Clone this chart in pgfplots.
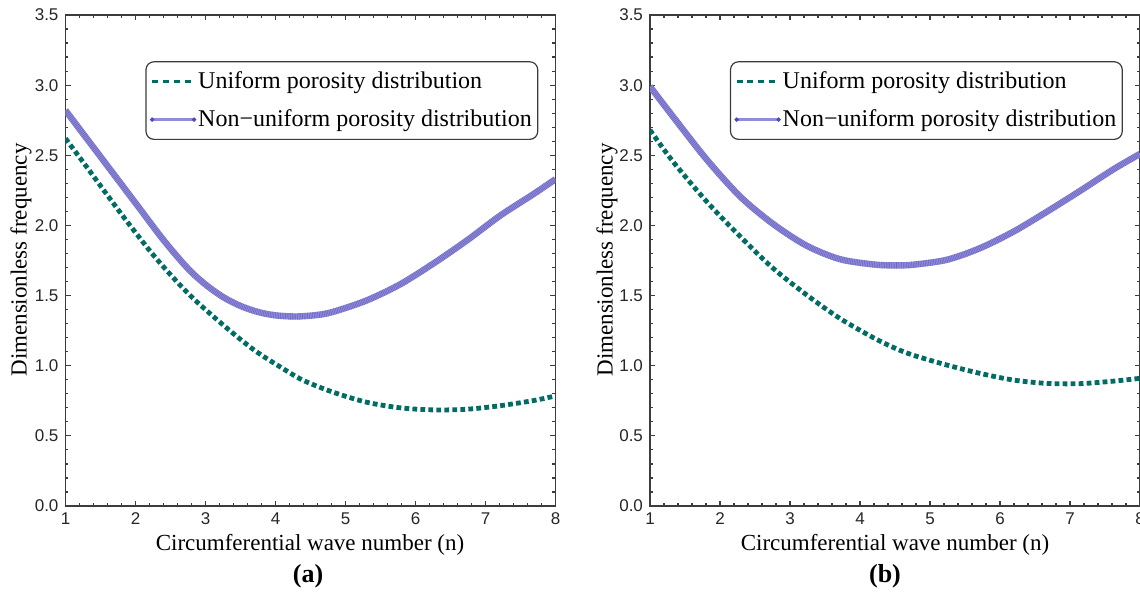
\documentclass[border=0pt]{standalone}
\usepackage{pgfplots}
\usepackage{pgfplotstable}
\pgfplotsset{compat=1.18}
\usepackage{fontspec}
\setmainfont{Liberation Serif}
\newfontfamily\arial{Liberation Sans}

\definecolor{teal1}{RGB}{0,108,100}
\definecolor{lav}{RGB}{145,140,218}
\definecolor{lavdark}{RGB}{80,75,175}
\definecolor{axgray}{RGB}{60,60,60}

\pgfplotstableread{
n f
1    2.82
1.5  2.49
2.0  2.16
2.4  1.896
2.75 1.692
3.0  1.579
3.25 1.49
3.5  1.426
3.75 1.383
4.0  1.359
4.3  1.351
4.6  1.362
4.83 1.385
5.30 1.465
5.78 1.58
6.26 1.73
6.74 1.895
7.21 2.07
7.69 2.225
8    2.33
}\NUa

\pgfplotstableread{
n f
1    2.62
1.32 2.405
1.80 2.08
2.27 1.78
2.75 1.516
3.23 1.30
3.70 1.11
4.18 0.957
4.42 0.89
4.83 0.81
5.30 0.74
5.78 0.70
6.26 0.685
6.74 0.69
7.21 0.715
7.69 0.752
8    0.785
}\Ua

\pgfplotstableread{
n f
1    2.99
1.33 2.775
1.81 2.47
2.29 2.205
2.76 2.01
3.24 1.855
3.71 1.76
4.19 1.722
4.50 1.715
4.76 1.72
5.24 1.755
5.71 1.837
6.19 1.955
6.67 2.098
7.14 2.245
7.62 2.40
8    2.51
}\NUb

\pgfplotstableread{
n f
1    2.68
1.33 2.454
1.81 2.17
2.29 1.92
2.76 1.694
3.24 1.504
3.71 1.338
4.19 1.20
4.50 1.125
4.76 1.075
5.24 1.005
5.71 0.946
6.19 0.898
6.67 0.874
7.14 0.872
7.62 0.89
8    0.91
}\Ub

\pgfplotsset{
 myaxis/.style={
  scale only axis, width=245pt, height=245.5pt,
  xmin=1, xmax=8, ymin=0, ymax=3.5,
  xtick={1,2,3,4,5,6,7,8},
  ytick={0,0.5,1,1.5,2,2.5,3,3.5},
  minor x tick num=4, minor y tick num=4,
  tick align=inside,
  major tick length=2.6pt, minor tick length=1.5pt,
  axis line style={axgray, line width=0.75pt},
  every tick/.style={axgray, line width=0.6pt},
  tick label style={font=\arial\fontsize{8.5}{10}\selectfont, text=black!85},
  /pgf/number format/assume math mode=true,
  yticklabel style={/pgf/number format/.cd, fixed, fixed zerofill, precision=1},
  legend cell align=left,
  legend style={at={(rel axis cs:0.965,0.906)}, anchor=north east,
    draw=axgray, line width=0.6pt, rounded corners=4pt,
    font=\fontsize{12}{14}\selectfont,
    inner xsep=2pt, inner ysep=4pt, row sep=7.2pt,
    nodes={inner sep=1pt, text height=8.6pt, text depth=1.2pt},
    /tikz/every even column/.style={column sep=3pt}},
 },
 uni/.style={teal1, line width=2.4pt, dash pattern=on 2.4pt off 1.6pt, smooth, forget plot},
 nonbase/.style={lav, line width=3.2pt, smooth, forget plot},
 nonhatch/.style={lavdark, line width=3.2pt, dash pattern=on 0.3pt off 0.55pt, smooth, forget plot, opacity=0.6},
 uniimg/.style={legend image code/.code={\draw[teal1, line width=1.6pt, dash pattern=on 3pt off 2.4pt] (0pt,0pt) -- (21pt,0pt);}},
 nonimg/.style={legend image code/.code={\draw[lav, line width=1.3pt] (0pt,0pt) -- (21pt,0pt); \fill[lavdark] (0pt,0pt) circle (0.75pt) (21pt,0pt) circle (0.75pt);}},
}

\begin{document}
\begin{tikzpicture}
\begin{axis}[myaxis, at={(32.75pt,42.5pt)}, anchor=south west]
\addlegendimage{uniimg}
\addlegendentry{Uniform porosity distribution}
\addlegendimage{nonimg}
\addlegendentry{Non−uniform porosity distribution}
\addplot[nonbase] table {\NUa};
\addplot[nonhatch] table {\NUa};
\addplot[uni] table {\Ua};
\end{axis}
\begin{axis}[myaxis, at={(325pt,42.5pt)}, anchor=south west]
\addlegendimage{uniimg}
\addlegendentry{Uniform porosity distribution}
\addlegendimage{nonimg}
\addlegendentry{Non−uniform porosity distribution}
\addplot[nonbase] table {\NUb};
\addplot[nonhatch] table {\NUb};
\addplot[uni] table {\Ub};
\end{axis}
\node[font=\fontsize{11.5}{13}\selectfont] at (155pt,23pt) {Circumferential wave number (n)};
\node[font=\fontsize{11.5}{13}\selectfont] at (447.5pt,23pt) {Circumferential wave number (n)};
\node[font=\fontsize{11.5}{13}\selectfont, rotate=90] at (10.5pt,165.5pt) {Dimensionless frequency};
\node[font=\fontsize{11.5}{13}\selectfont, rotate=90] at (303.5pt,165.5pt) {Dimensionless frequency};
\node[font=\fontsize{13}{15}\selectfont\bfseries] at (154pt,7.5pt) {(a)};
\node[font=\fontsize{13}{15}\selectfont\bfseries] at (442.5pt,7.5pt) {(b)};
\pgfresetboundingbox
\path[use as bounding box] (0pt,0pt) rectangle (570pt,295.5pt);
\end{tikzpicture}
\end{document}
